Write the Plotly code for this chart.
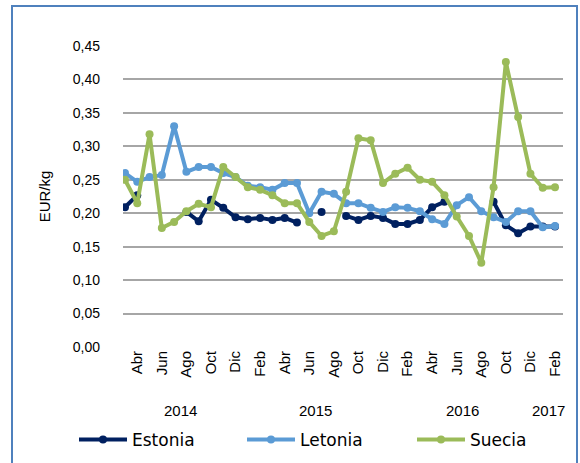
import plotly.graph_objects as go

# Monthly categories Mar 2014 .. Feb 2017
month_abbr = ["Ene", "Feb", "Mar", "Abr", "May", "Jun", "Jul", "Ago", "Sep", "Oct", "Nov", "Dic"]
months = []
y, m = 2014, 3
while (y, m) <= (2017, 2):
    months.append(f"{y}-{m:02d}")
    m += 1
    if m > 12:
        m = 1
        y += 1

estonia = [0.209, 0.227, None, None, None, 0.202, 0.188, 0.220, 0.208, 0.194,
           0.191, 0.193, 0.190, 0.193, 0.186, None, 0.202, None, 0.196, 0.190,
           0.196, 0.193, 0.184, 0.184, 0.190, 0.209, 0.217, None, None, None,
           0.217, 0.182, 0.170, 0.180, 0.180, 0.180]
letonia = [0.260, 0.247, 0.254, 0.257, 0.330, 0.262, 0.269, 0.269, 0.260, 0.254,
           0.241, 0.239, 0.235, 0.245, 0.245, 0.200, 0.232, 0.229, 0.215, 0.215,
           0.208, 0.202, 0.209, 0.208, 0.203, 0.191, 0.184, 0.212, 0.224, 0.203,
           0.194, 0.187, 0.203, 0.203, 0.179, 0.181]
suecia = [0.250, 0.215, 0.318, 0.178, 0.187, 0.203, 0.214, 0.209, 0.269, 0.254,
          0.239, 0.235, 0.227, 0.215, 0.215, 0.187, 0.166, 0.173, 0.232, 0.312,
          0.309, 0.245, 0.259, 0.268, 0.250, 0.247, 0.227, 0.195, 0.166, 0.126,
          0.239, 0.426, 0.344, 0.259, 0.238, 0.239]

series = [("Estonia", estonia, "#002060"),
          ("Letonia", letonia, "#5B9BD5"),
          ("Suecia", suecia, "#9BBB59")]

tick_vals = [mo for mo in months if int(mo[5:]) % 2 == 0]
tick_text = [month_abbr[int(mo[5:]) - 1] for mo in tick_vals]
years = ["2014", "2015", "2016", "2017"]

L, R, T, B = 123, 17, 46, 116
W, H = 580, 463
pw, ph = W - L - R, H - T - B

legend_left_px = [74, 242, 412]
legend_names = ["legend", "legend2", "legend3"]

fig = go.Figure()
for (name, vals, col), lg in zip(series, legend_names):
    fig.add_trace(go.Scatter(
        x=months, y=vals, name=name, mode="lines+markers",
        line=dict(color=col, width=4),
        marker=dict(color=col, size=8),
        connectgaps=False, legend=lg,
    ))

for yr in years:
    idx = [i for i, mo in enumerate(months) if mo.startswith(yr)]
    fig.add_annotation(x=(idx[0] + idx[-1]) / 2, y=0, xref="x", yref="paper",
                       yanchor="middle", yshift=-63, text=yr, showarrow=False,
                       font=dict(family="Liberation Sans, Arial", size=15, color="#000"))

fig.add_shape(type="rect", xref="paper", yref="paper",
              x0=(12 - L) / pw, x1=(577 - L) / pw,
              y0=(H - B - 475) / ph, y1=(H - B - 6) / ph,
              line=dict(color="#4F81BD", width=2), layer="above")

leg_common = dict(orientation="h", yanchor="middle", xanchor="left",
                  y=(H - B - 440) / ph, bgcolor="rgba(0,0,0,0)",
                  font=dict(family="DejaVu Sans", size=17, color="#000"),
                  itemwidth=48)
legend_layout = {}
for lg, px in zip(legend_names, legend_left_px):
    legend_layout[lg] = dict(leg_common, x=(px - L) / pw)

fig.update_layout(
    width=W, height=H,
    margin=dict(l=L, r=R, t=T, b=B, autoexpand=False),
    paper_bgcolor="white", plot_bgcolor="white",
    font=dict(family="Liberation Sans, Arial", size=14, color="#000"),
    showlegend=True,
    xaxis=dict(type="category", categoryorder="array", categoryarray=months,
               range=[-0.16, 35.65], tickmode="array", tickvals=tick_vals,
               ticktext=tick_text, tickangle=-90, showgrid=False,
               showline=False, zeroline=False, ticks="",
               tickfont=dict(size=15)),
    yaxis=dict(range=[0, 0.45], dtick=0.05, tickformat=".2f",
               showgrid=True, gridcolor="#A6A6A6", gridwidth=1.5,
               zeroline=False, showline=False, ticks="",
               ticklabelstandoff=22,
               title=dict(text="EUR/kg", font=dict(size=15), standoff=18),
               tickfont=dict(size=14)),
    separators=",.",
    **legend_layout,
)

fig.write_html("out.html",
               config={"displayModeBar": False},
               post_script="document.body.style.margin='0';document.body.style.overflow='hidden';")
